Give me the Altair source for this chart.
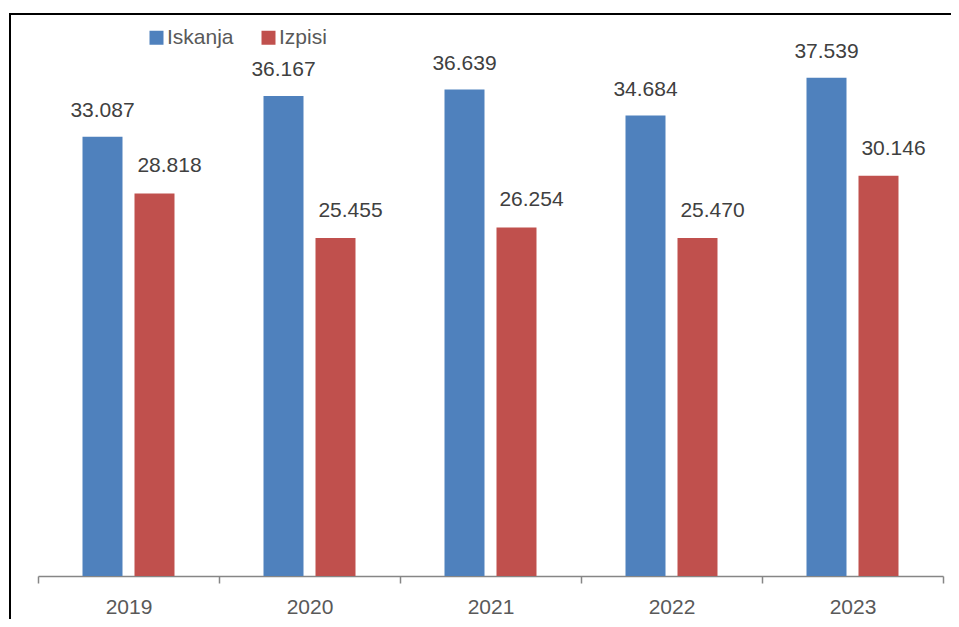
import altair as alt
import pandas as pd

years = ["2019", "2020", "2021", "2022", "2023"]
iskanja = [33087, 36167, 36639, 34684, 37539]
izpisi = [28818, 25455, 26254, 25470, 30146]
series = ["Iskanja", "Izpisi"]
colors = ["#4F81BD", "#C0504D"]

rows = []
for y, a, b in zip(years, iskanja, izpisi):
    rows.append({"year": y, "series": "Iskanja", "value": a})
    rows.append({"year": y, "series": "Izpisi", "value": b})
df = pd.DataFrame(rows)
df["label"] = df["value"].map(lambda v: f"{v:,}".replace(",", "."))

W, H = 905, 531
FONT = "Liberation Sans"

x_enc = alt.X("year:N", title=None, sort=years,
              scale=alt.Scale(paddingInner=0, paddingOuter=0),
              axis=alt.Axis(labelAngle=0, labelFontSize=21, labelColor="#595959",
                            labelFont=FONT, domainColor="#868686", tickColor="#868686",
                            domainWidth=1.5, tickWidth=1.5, tickSize=7, labelPadding=13,
                            tickBand="extent", grid=False))
y_enc = alt.Y("value:Q", scale=alt.Scale(domain=[0, 40000], nice=False), axis=None)
xo = alt.XOffset("series:N", sort=series,
                 scale=alt.Scale(paddingInner=0.2308, paddingOuter=0.8558))

base = alt.Chart(df)

bars = base.mark_bar().encode(
    x=x_enc, y=y_enc, xOffset=xo,
    color=alt.Color("series:N", sort=series,
                    scale=alt.Scale(domain=series, range=colors),
                    legend=alt.Legend(title=None, orient="none", direction="horizontal",
                                      legendX=108, legendY=-18, symbolType="square",
                                      symbolSize=196, symbolStrokeWidth=0,
                                      labelFontSize=21, labelColor="#595959", labelFont=FONT,
                                      labelOffset=0, columnPadding=24)),
)

txt_a = base.transform_filter("datum.series == 'Iskanja'").mark_text(
    fontSize=21, font=FONT, color="#404040", baseline="middle", dy=-26
).encode(x=x_enc, y=y_enc, xOffset=xo, text="label:N")

txt_b = base.transform_filter("datum.series == 'Izpisi'").mark_text(
    fontSize=21, font=FONT, color="#404040", baseline="middle", dy=-27, dx=15
).encode(x=x_enc, y=y_enc, xOffset=xo, text="label:N")

one = alt.Chart(pd.DataFrame({"a": [0]}))
frame_left = one.mark_rule(color="black", strokeWidth=2).encode(
    x=alt.value(-28), y=alt.value(-31), y2=alt.value(H + 43))
frame_top = one.mark_rule(color="black", strokeWidth=2).encode(
    x=alt.value(-29), x2=alt.value(W + 8), y=alt.value(-31))

chart = alt.layer(bars, txt_a, txt_b, frame_left, frame_top).properties(
    width=W, height=H,
    background="white",
    autosize=alt.AutoSizeParams(type="none"),
    padding={"left": 30, "top": 37, "right": 8, "bottom": 43},
).configure_view(strokeWidth=0, stroke="transparent")

chart.save("out.html", embed_options={"renderer": "svg", "actions": False})
